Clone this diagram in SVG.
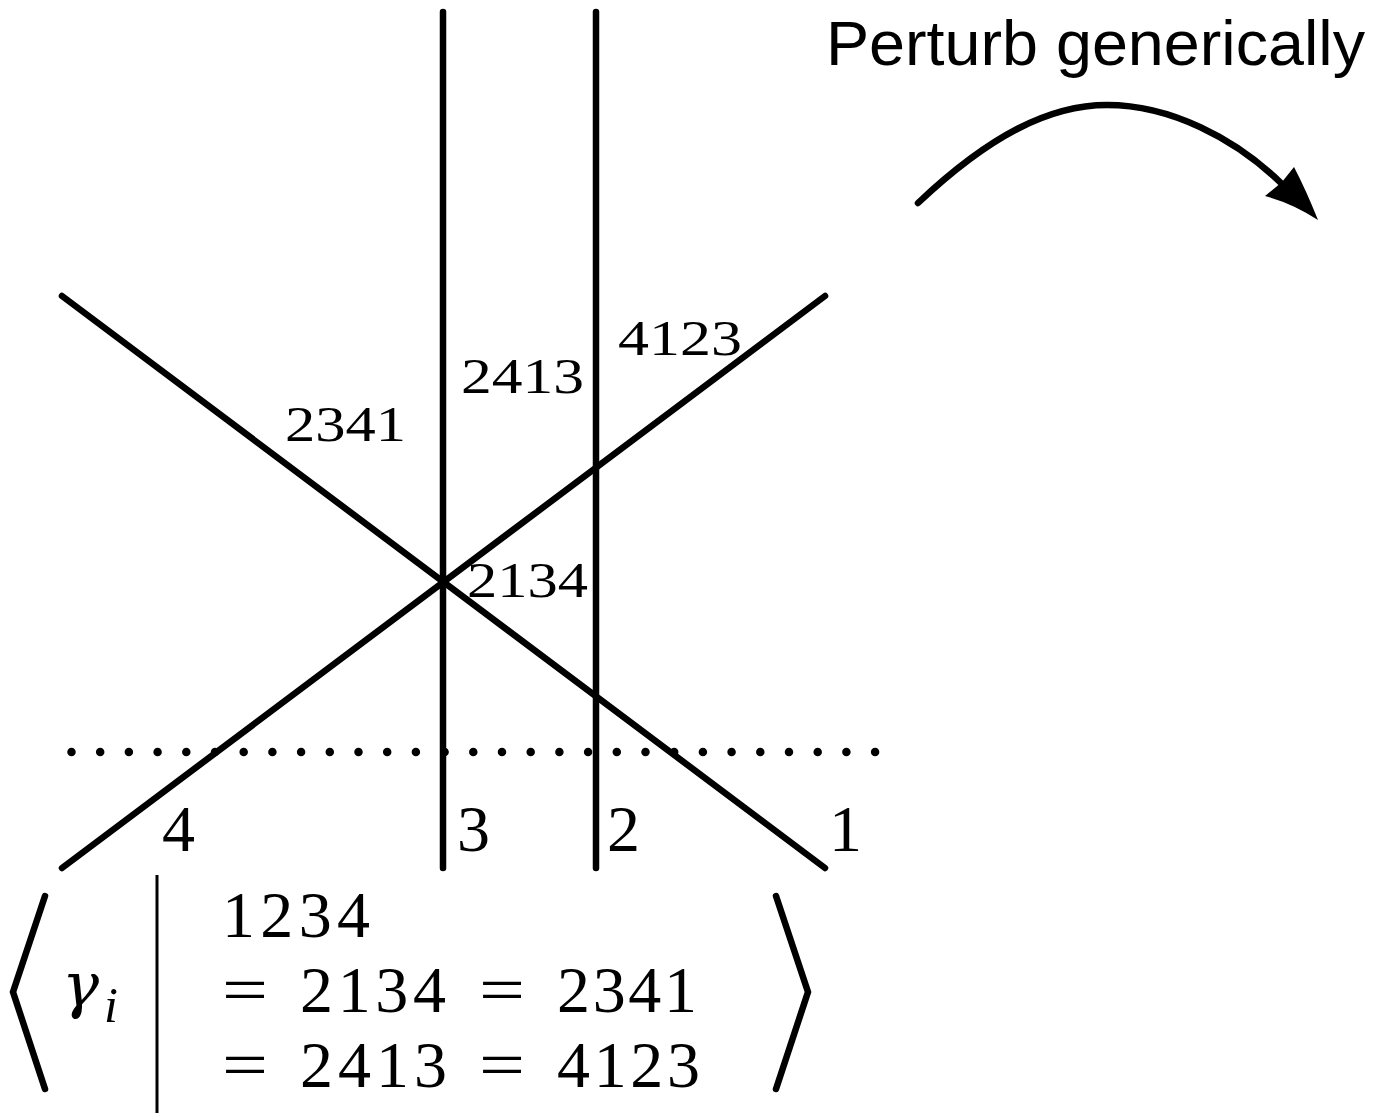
<svg xmlns="http://www.w3.org/2000/svg" width="1382" height="1115" viewBox="0 0 1382 1115">
<style>
.ln{stroke:#000;stroke-width:6.5;fill:none;stroke-linecap:round}
.sm{font-family:"Liberation Serif","DejaVu Serif",serif;font-size:50px;fill:#000}
.bg{font-family:"Liberation Serif","DejaVu Serif",serif;font-size:66px;fill:#000}
.ss{font-family:"Liberation Sans","DejaVu Sans",sans-serif;font-size:63px;fill:#000}
</style>
<rect width="1382" height="1115" fill="#fff"/>
<g id="connectors">
<line class="ln" x1="443" y1="12" x2="443" y2="868"/>
<line class="ln" x1="596" y1="12" x2="596" y2="868"/>
<line class="ln" x1="62" y1="296" x2="825" y2="868"/>
<line class="ln" x1="62" y1="868" x2="825" y2="296"/>
<line x1="71.5" y1="752" x2="876" y2="752" stroke="#000" stroke-width="8.5" stroke-linecap="round" stroke-dasharray="0 28.7"/>
<path class="ln" d="M918,203 C990,135 1050,105 1107,105 C1170,105 1235,138 1282,184"/>
<path d="M1318,220 Q1292,203 1265,196 L1282,182 L1294,167 Q1306,190 1318,220 Z" fill="#000"/>
</g>
<g id="region-labels">
<text class="sm" x="285" y="441" textLength="121" lengthAdjust="spacingAndGlyphs">2341</text>
<text class="sm" x="461" y="393" textLength="123" lengthAdjust="spacingAndGlyphs">2413</text>
<text class="sm" x="618" y="355" textLength="124" lengthAdjust="spacingAndGlyphs">4123</text>
<text class="sm" x="467" y="597" textLength="121" lengthAdjust="spacingAndGlyphs">2134</text>
</g>
<g id="strand-labels">
<text class="bg" x="162" y="851">4</text>
<text class="bg" x="457" y="851">3</text>
<text class="bg" x="607" y="851">2</text>
<text class="bg" x="829" y="851">1</text>
</g>
<g id="title">
<text class="ss" x="826" y="65" textLength="539" lengthAdjust="spacingAndGlyphs">Perturb generically</text>
</g>
<g id="presentation">
<polyline class="ln" points="45,896 13,992 45,1089" stroke-width="4" stroke-linecap="butt"/>
<polyline class="ln" points="776,896 808,992 776,1089" stroke-width="4" stroke-linecap="butt"/>
<line x1="157" y1="875" x2="157" y2="1113" stroke="#000" stroke-width="3"/>
<text x="62" y="1006" font-family="'DejaVu Serif','Liberation Serif',serif" font-style="italic" font-size="62">γ</text>
<text class="sm" x="104" y="1022" font-style="italic" font-size="46">i</text>
<text class="bg" x="222" y="937" textLength="148" lengthAdjust="spacing">1234</text>
<text class="bg" x="222" y="1012" textLength="46" lengthAdjust="spacingAndGlyphs">=</text>
<text class="bg" x="300" y="1012" textLength="146" lengthAdjust="spacing">2134</text>
<text class="bg" x="479" y="1012" textLength="46" lengthAdjust="spacingAndGlyphs">=</text>
<text class="bg" x="557" y="1012" textLength="140" lengthAdjust="spacing">2341</text>
<text class="bg" x="222" y="1087" textLength="46" lengthAdjust="spacingAndGlyphs">=</text>
<text class="bg" x="300" y="1087" textLength="147" lengthAdjust="spacing">2413</text>
<text class="bg" x="479" y="1087" textLength="46" lengthAdjust="spacingAndGlyphs">=</text>
<text class="bg" x="557" y="1087" textLength="143" lengthAdjust="spacing">4123</text>
</g>
</svg>
